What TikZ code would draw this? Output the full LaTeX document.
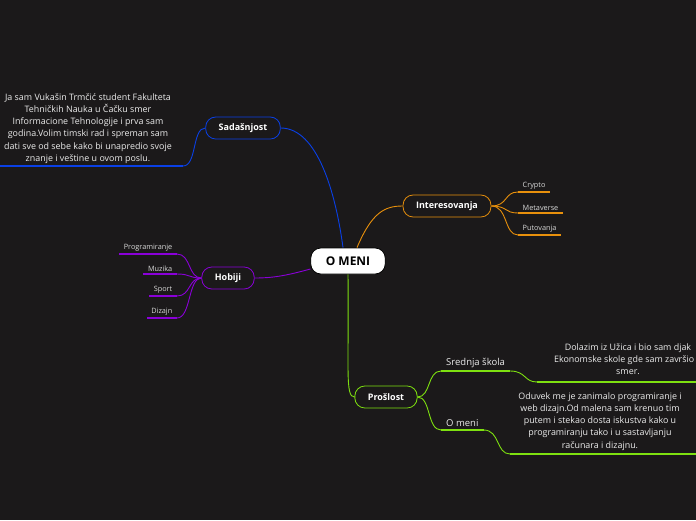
\documentclass[tikz,border=0pt]{standalone}
\usepackage{fontspec}
\setmainfont{Open Sans}
\definecolor{bg}{HTML}{1B191A}
\definecolor{cblue}{HTML}{0A40E6}
\definecolor{corange}{HTML}{E8900C}
\definecolor{cpurple}{HTML}{8A00D8}
\definecolor{cgreen}{HTML}{7EE010}

\begin{document}
\begin{tikzpicture}[x=1pt, y=-1pt,
  root/.style={draw=black, fill=white, line width=0.8pt, rounded corners=10pt,
    font=\fontsize{12}{14}\selectfont\bfseries, minimum height=26pt, inner xsep=15pt},
  topic/.style={draw=#1, fill=bg, line width=0.8pt, rounded corners=10pt, text=white,
    font=\fontsize{9}{11}\selectfont\bfseries, minimum height=22pt, inner xsep=13pt},
  leaf/.style={text=white!85!black, font=\fontsize{7.3}{9}\selectfont, inner xsep=4.5pt, inner ysep=2.5pt},
  sub/.style={text=white!92!black, font=\fontsize{9.5}{11}\selectfont, inner xsep=5pt, inner ysep=3pt},
  note/.style={text=white!92!black, font=\fontsize{8.9}{12.2}\selectfont, align=center, anchor=north},
  link/.style={draw=#1, line width=0.9pt},
  uline/.style={draw=#1, line width=1.5pt}]
  \fill[bg] (0,0) rectangle (696,520);
  \clip (0,0) rectangle (696,520);

  % main topics
  \node[root] (meni) at (348,261) {O MENI};
  \node[topic=cblue] (sad) at (243,128) {Sadašnjost};
  \node[topic=corange] (int) at (447,206) {Interesovanja};
  \node[topic=cpurple] (hob) at (228,278) {Hobiji};
  \node[topic=cgreen] (pro) at (386,397) {Prošlost};

  \draw[link=cblue] ([xshift=-5pt]meni.north) .. controls (336,195) and (318,128) .. (sad.east);
  \draw[link=corange] ([xshift=9pt]meni.north) .. controls (372,212) and (385,206) .. (int.west);
  \draw[link=cpurple] ([yshift=-8pt]meni.west) .. controls (285,276) and (272,278) .. (hob.east);
  \draw[link=cgreen] (meni.south) .. controls (349,370) and (345,397) .. (pro.west);

  % Sadasnjost
  \coordinate (sadu) at (183,166);
  \coordinate (sadl) at (0,166);
  \node[note] (sadtxt) at (88,90) {Ja sam Vukašin Trmčić student Fakulteta\\
    Tehničkih Nauka u Čačku smer\\Informacione Tehnologije i prva sam\\
    godina.Volim timski rad i spreman sam\\dati sve od sebe kako bi unapredio svoje\\
    znanje i veštine u ovom poslu.};
  \draw[link=cblue] (sad.west) .. controls (192,128) and (197,166) .. (sadu);
  \draw[uline=cblue] (sadu) -- (sadl);

  % Interesovanja
  \node[leaf, anchor=south west] (crypto) at (518,192) {Crypto};
  \node[leaf, anchor=south west] (meta) at (518,213) {Metaverse};
  \node[leaf, anchor=south west] (put) at (518,235) {Putovanja};
  \foreach \n in {crypto,meta,put}
  {
    \draw[link=corange] (int.east) .. controls (508,206) and (504,0|-\n.south) .. (\n.south west);
    \draw[uline=corange] (\n.south west) -- (\n.south east);
  }

  % Hobiji
  \node[leaf, anchor=south east] (prog) at (177,254) {Programiranje};
  \node[leaf, anchor=south east] (muz) at (177,274) {Muzika};
  \node[leaf, anchor=south east] (sport) at (177,296) {Sport};
  \node[leaf, anchor=south east] (diz) at (177,318) {Dizajn};
  \foreach \n in {prog,muz,sport,diz}
  {
    \draw[link=cpurple] (hob.west) .. controls (188,278) and (191,0|-\n.south) .. (\n.south east);
    \draw[uline=cpurple] (\n.south east) -- (\n.south west);
  }

  % Proslost
  \node[sub, anchor=south west] (sred) at (441,371) {Srednja škola};
  \node[sub, anchor=south west] (omeni) at (441,430) {O meni};
  \foreach \n in {sred,omeni}
  {
    \draw[link=cgreen] (pro.east) .. controls (431,397) and (427,0|-\n.south) .. (\n.south west);
    \draw[uline=cgreen] (\n.south west) -- (\n.south east);
  }
  \coordinate (sredu) at (537,382);
  \coordinate (sredr) at (700,382);
  \node[note] (sredtxt) at (628,340) {Dolazim iz Užica i bio sam djak\\
    Ekonomske skole gde sam završio o\\smer.};
  \draw[link=cgreen] (sred.south east) .. controls (526,371) and (524,382) .. (sredu);
  \draw[uline=cgreen] (sredu) -- (sredr);

  \coordinate (omeniu) at (510,454);
  \coordinate (omenir) at (700,454);
  \node[note] (omenitxt) at (600,389) {Oduvek me je zanimalo programiranje i\\
    web dizajn.Od malena sam krenuo tim\\putem i stekao dosta iskustva kako u\\
    programiranju tako i u sastavljanju\\računara i dizajnu.};
  \draw[link=cgreen] (omeni.south east) .. controls (500,430) and (496,454) .. (omeniu);
  \draw[uline=cgreen] (omeniu) -- (omenir);
\end{tikzpicture}
\end{document}
